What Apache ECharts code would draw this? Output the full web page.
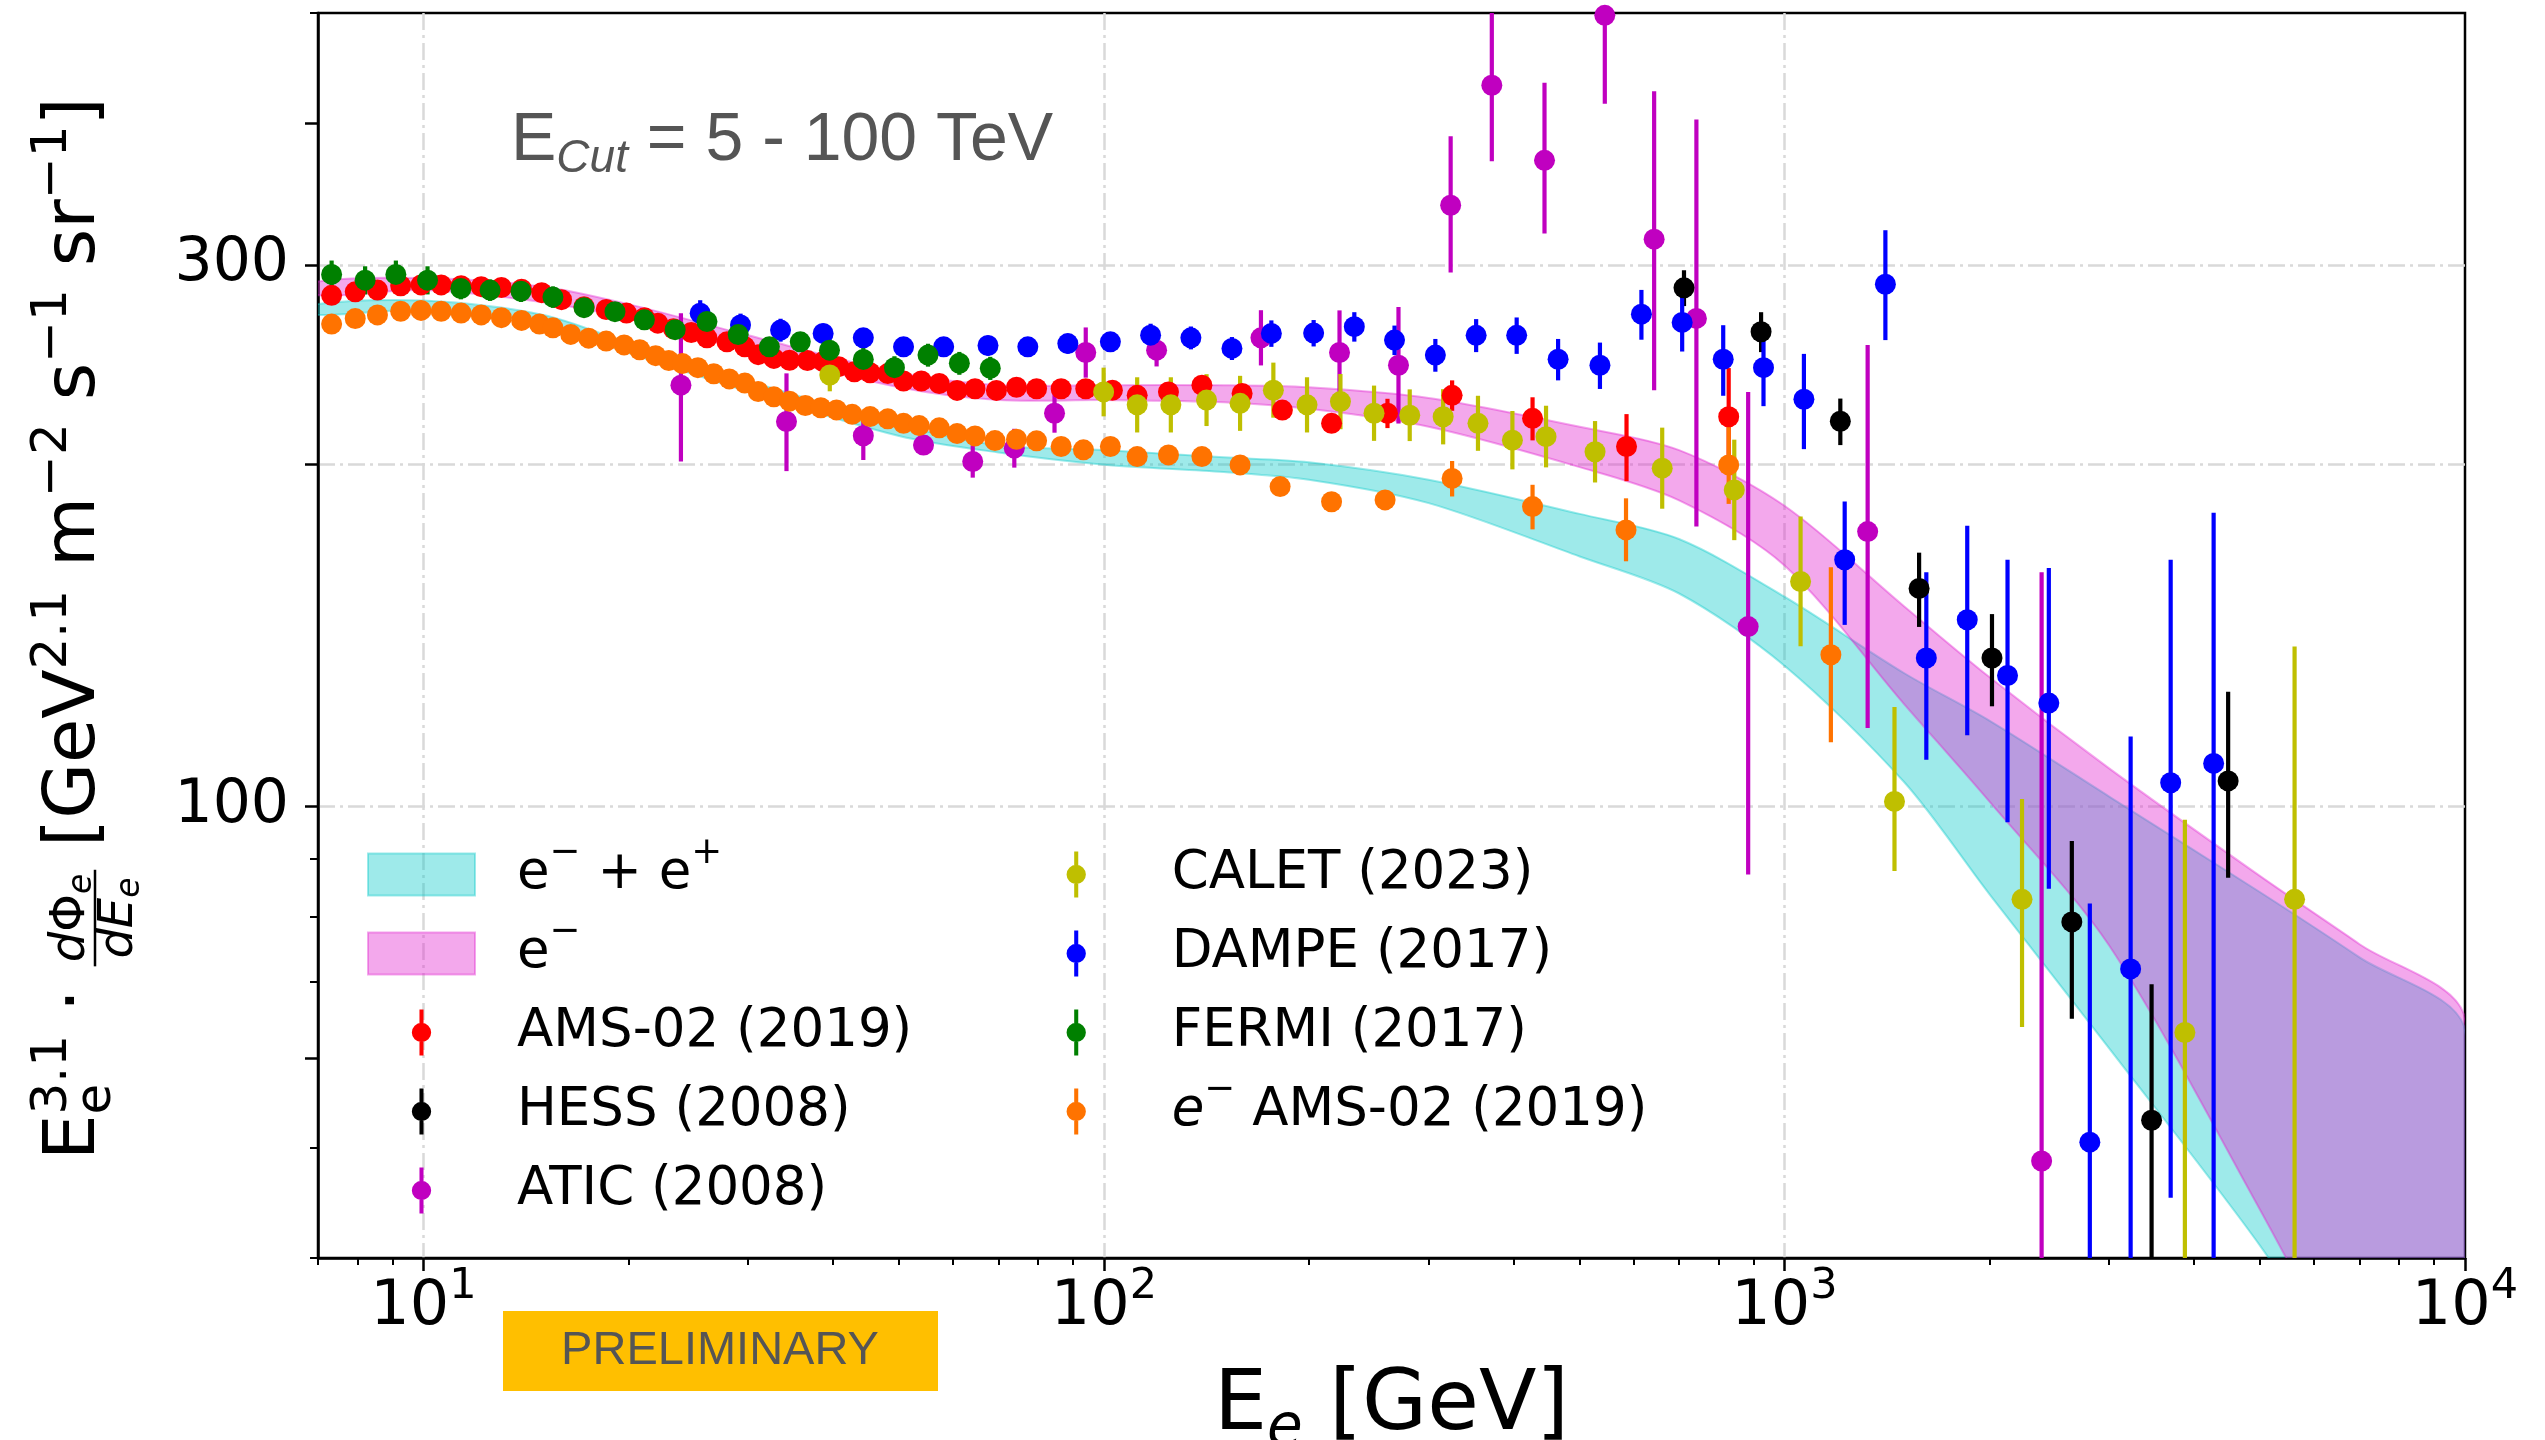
<!DOCTYPE html>
<html><head><meta charset="utf-8">
<script src="https://cdn.jsdelivr.net/npm/echarts@6/dist/echarts.min.js"></script>
<style>html,body{margin:0;padding:0;background:#fff}#c{width:2545px;height:1440px}</style>
</head><body><div id="c"></div>
<script>
// ---------------- data (E [GeV], E^3.1 dPhi/dE, err down, err up) ----------------
const bandE      = [7, 10, 15, 20, 30, 50, 70, 100, 150, 200, 300, 500, 700, 1000, 1500, 2000, 3000, 5000, 7000, 10000];
const bandAllLo  = [271, 274, 266, 251, 232, 212, 205, 200, 197, 194, 185, 166, 154, 133, 105, 83.7, 61.2, 41.0, 30.2, 22.5];
const bandAllHi  = [277, 279, 271, 256, 237, 217, 208, 206, 203, 201, 194, 181, 172, 153, 131, 119, 102, 84.0, 73.6, 63.5];
const bandEleLo  = [282, 285, 278, 269, 252, 234, 228, 228, 227, 224, 216, 199, 186, 163, 123, 101, 75.4, 44.1, 30.2, 20.4];
const bandEleHi  = [290, 292, 287, 277, 260, 241, 235, 235, 235, 234, 229, 216, 206, 184, 150, 130, 108, 86.8, 75.6, 65.0];

const AMS = [[7.33,282,1.6,1.6],[7.94,284,1.6,1.6],[8.56,285,1.6,1.6],[9.26,287.5,1.6,1.6],[9.92,288,1.6,1.6],[10.62,288,1.6,1.6],[11.36,287.5,1.6,1.6],[12.16,287,1.6,1.6],[13.02,286.5,1.6,1.6],[13.94,285.5,1.6,1.6],[14.92,283.5,1.6,1.6],[15.96,279.5,1.6,1.6],[17.22,275.5,1.6,1.6],[18.56,274,1.6,1.6],[19.88,272,1.6,1.6],[21.12,269.5,1.6,1.6],[22.10,266.5,1.6,1.6],[23.30,263.5,1.6,1.6],[24.75,261.5,1.6,1.6],[26.10,258.7,1.6,1.6],[27.93,256.6,1.6,1.6],[29.67,254,1.6,1.6],[31.04,250,1.6,1.6],[32.73,248.1,1.6,1.6],[34.51,247.2,1.6,1.6],[36.67,247,1.6,1.6],[38.67,246.5,1.6,1.6],[40.76,244,1.6,1.6],[42.98,241.5,1.6,1.6],[45.33,241,1.6,1.6],[48.12,240.6,1.6,1.6],[50.76,237,1.6,1.6],[53.91,237,1.6,1.6],[57.28,235.8,1.6,1.6],[60.84,232.5,1.6,1.6],[64.65,233.3,1.6,1.6],[69.50,232.5,1.6,1.6],[74.39,234,1.6,1.6],[79.62,233.3,1.6,1.6],[86.52,233.3,1.8,1.8],[94.03,233.3,1.8,1.8],[102.9,232.6,2,2],[111.9,230.2,2,2],[124.4,231.8,2,2],[139.3,235,2.2,2.2],[159.6,231.1,2.5,2.5],[182.9,223.4,3,3],[216.0,217.5,3.6,3.6],[261.0,222.0,6.6,6.6],[324.8,230.2,7.1,7.1],[426.4,219.7,9.6,9.6],[586.0,207.5,14.1,14.1],[828.0,220.4,22.9,22.9]];
const HESS = [[711.8,286.3,10.4,10.4],[923.9,261.9,10.6,10.6],[1208,218.4,10.3,10.3],[1577,155.6,11.7,11.7],[2018,135.1,12.6,12.6],[2644,79.1,14.1,14.1],[3463,52.9,22.9,16.8],[4487,105.3,18.8,20.9]];
const ATIC = [[23.90,235.0,33.7,36.9],[34.16,218.3,20.9,22.4],[44.30,212.1,10.2,10.7],[54.31,208.1,4.1,4.1],[64.15,201.3,6.5,6.7],[73.84,206.8,8.0,8.3],[84.60,222.0,8.6,8.9],[94.03,251.1,12.5,13.1],[119.5,252.3,8.2,8.4],[170.1,258.7,14.1,14.9],[221.9,251.1,20.6,22.4],[270.9,244.7,27.3,30.7],[323.2,338.5,43.2,50.8],[371.5,431.8,61.7,68.2],[444.0,370.8,51.1,63.3],[544.5,497.6,81.6,102.4],[643.4,316.0,83.4,110.6],[742.3,269.1,92.7,133.8],[884.4,144.0,56.9,87.8],[1325,174.6,57.4,80.4],[2387,48.7,18.7,112.1]];
const CALET = [[39.55,239.9,7.8,8.0],[99.9,231.8,11.2,11.7],[111.9,225.8,12.3,13.0],[125.4,225.8,12.3,13.0],[141.5,228.0,11.7,12.3],[158.5,226.5,12.3,13.0],[177.4,232.6,12.6,13.4],[198.8,225.8,12.3,13.0],[222.6,227.3,12.4,13.1],[249.4,222.0,12.1,12.8],[281.4,221.1,11.3,11.9],[315.1,220.4,12.0,12.7],[354.5,217.5,11.8,12.5],[398.3,210.2,12.1,12.8],[446.3,211.7,12.8,13.7],[526.8,205.3,12.4,13.2],[661.2,198.6,15.7,17.0],[843.8,190.0,18.4,20.4],[1056,157.8,19.4,22.2],[1451,101.0,13.3,21.3],[2234,82.8,18.9,18.7],[3876,63.2,33.2,34.1],[5618,82.8,62.8,55.5]];
const DAMPE = [[25.51,271.9,7.3,7.3],[29.24,265.5,6.2,6.2],[33.48,262.8,6.1,6.1],[38.67,261.0,5.2,5.2],[44.30,258.7,5.1,5.1],[50.76,254.0,5.1,5.1],[58.14,254.0,5.1,5.1],[67.55,254.7,5.1,5.1],[77.29,254.0,5.1,5.1],[88.50,255.7,5.1,5.1],[102.2,256.6,5.1,5.1],[117.1,260.1,6.1,6.1],[134.2,258.7,6.0,6.0],[154.2,253.2,5.9,5.9],[176.2,261.0,7.0,7.0],[203.3,261.2,7.0,7.0],[233.3,264.6,7.9,7.9],[267.3,257.5,7.7,7.7],[306.9,249.8,8.3,8.3],[352.3,260.0,8.7,8.7],[404.1,260.0,9.6,9.6],[464.9,247.7,10.4,10.4],[535.6,244.7,11.5,11.5],[616.3,271.4,13.7,13.7],[707.4,266.9,15.3,15.3],[812.8,247.7,17.7,17.7],[931.5,243.5,18.3,18.3],[1068,228.4,22.0,22.0],[1226,164.9,20.4,20.7],[1407,288.4,30.9,33.4],[1616,135.1,25.2,25.7],[1856,146.0,30.5,30.7],[2127,130.4,33.6,34.5],[2446,123.3,38.7,38.9],[2810,50.6,20.6,31.5],[3226,71.9,41.9,43.3],[3694,104.9,59.7,60.0],[4272,109.1,79.1,72.3]];
const FERMI = [[7.33,294.2,8.4,8.4],[8.21,290.8,8.3,8.3],[9.11,294.2,8.4,8.4],[10.14,290.8,8.3,8.3],[11.35,285.9,6.2,6.2],[12.53,285.0,6.2,6.2],[13.91,284.3,6.1,6.1],[15.50,281.0,6.1,6.1],[17.22,275.0,4.6,4.6],[19.12,272.8,4.5,4.5],[21.12,268.3,4.5,4.5],[23.44,263.0,4.4,4.4],[26.10,267.4,4.4,4.4],[29.01,260.4,4.3,4.3],[32.24,254.0,4.2,4.2],[35.79,256.6,4.3,4.3],[39.51,252.3,5.9,5.9],[44.30,247.6,5.8,5.8],[49.22,243.5,5.7,5.7],[55.14,249.8,5.8,5.8],[61.31,245.7,5.7,5.7],[68.07,243.2,5.7,5.7]];
const EAMS = [[7.33,266,1.6,1.6],[7.94,269,1.6,1.6],[8.56,271,1.6,1.6],[9.26,273,1.6,1.6],[9.92,273.5,1.6,1.6],[10.62,273,1.6,1.6],[11.36,272,1.6,1.6],[12.16,271,1.6,1.6],[13.02,269.5,1.6,1.6],[13.94,268,1.6,1.6],[14.81,266,1.6,1.6],[15.50,264,1.6,1.6],[16.46,260.5,1.6,1.6],[17.49,258.5,1.6,1.6],[18.56,257,1.6,1.6],[19.72,255,1.6,1.6],[20.79,252.5,1.6,1.6],[21.94,249.5,1.6,1.6],[22.94,247,1.6,1.6],[24.02,245.5,1.6,1.6],[25.31,243.5,1.6,1.6],[26.71,240.5,1.6,1.6],[28.15,238,1.6,1.6],[29.67,236,1.6,1.6],[31.04,232,1.6,1.6],[32.73,229.5,1.6,1.6],[34.51,227.5,1.6,1.6],[36.41,225.5,1.6,1.6],[38.37,224.5,1.6,1.6],[40.46,223.5,1.6,1.6],[42.66,221.5,1.6,1.6],[45.33,220.5,1.6,1.6],[48.12,219.5,1.6,1.6],[50.76,217.5,1.6,1.6],[53.51,216.5,1.6,1.6],[57.28,215.5,1.6,1.6],[60.84,213,1.6,1.6],[64.65,212,1.6,1.6],[69.16,210,1.6,1.6],[74.39,210.6,1.6,1.6],[79.62,209.9,1.6,1.6],[86.52,207.5,1.6,1.6],[93.3,206.1,1.6,1.6],[102.2,207.5,1.6,1.6],[111.9,203.3,1.6,1.6],[124.4,204.0,1.6,1.6],[139.3,203.3,1.6,1.6],[158.5,199.9,1.6,1.6],[181.5,191.3,2,2],[216.0,185.5,2.5,2.5],[258.9,186.2,3,3],[324.8,194.5,7.0,7.0],[426.4,183.7,8.3,8.3],[585,175.2,10.8,11.6],[828,199.9,15.2,16.4],[1170,136.0,22.1,26.4]];

const xMajorTicks = [10, 100, 1000, 10000];
const xMinorTicks = [7, 8, 9, 20, 30, 40, 50, 60, 70, 80, 90, 200, 300, 400, 500, 600, 700, 800, 900, 2000, 3000, 4000, 5000, 6000, 7000, 8000, 9000];
const yMajorTicks = [60, 100, 200, 300, 400];
const yMinorTicks = [40, 50, 70, 80, 90, 500];
const yTickLabels = [100, 300];

// ---------------- styling ----------------
const FF = 'DejaVu Sans', FL = 'Liberation Sans';
const GL = 318, GT = 13, GR = 2465, GB = 1258;
const LOG = Math.log10;
const gridLine = {color: '#d9d9d9', width: 2.5, type: [17, 5, 3, 5]};

function bandSeries(name, lo, hi, color) {
  return {
    type: 'custom', name, xAxisIndex: 0, yAxisIndex: 0, clip: true, silent: true,
    itemStyle: {color: color, borderColor: color, borderWidth: 2},
    data: bandE.map((e, i) => [e, lo[i], hi[i]]),
    encode: {x: 0, y: [1, 2]},
    renderItem(params, api) {
      if (params.dataIndex !== 0) return null;
      const up = bandE.map((e, i) => api.coord([e, hi[i]]));
      const dn = bandE.map((e, i) => api.coord([e, lo[i]])).reverse();
      return {type: 'polygon', shape: {points: up.concat(dn), smooth: 0.3}, style: {fill: color, stroke: color, lineWidth: 2}};
    }
  };
}
function errSeries(name, rows, color) {
  return {
    type: 'custom', name, xAxisIndex: 0, yAxisIndex: 0, clip: true, silent: true,
    itemStyle: {color: color},
    data: rows.map(r => [r[0], r[1], r[1] - r[2], r[1] + r[3]]),
    encode: {x: 0, y: [2, 3]},
    renderItem(params, api) {
      const e = api.value(0);
      const a = api.coord([e, api.value(2)]);
      const b = api.coord([e, api.value(3)]);
      return {type: 'line', shape: {x1: a[0], y1: a[1], x2: b[0], y2: b[1]}, style: {stroke: color, lineWidth: 4.2}};
    }
  };
}
function dotSeries(name, rows, color) {
  return {
    type: 'scatter', name, xAxisIndex: 0, yAxisIndex: 0, clip: true, silent: true,
    data: rows.map(r => [r[0], r[1]]), symbol: 'circle', symbolSize: 21,
    itemStyle: {color: color, opacity: 1}, emphasis: {disabled: true}
  };
}

const N_ALL = 'e⁻ + e⁺', N_ELE = 'e⁻', N_AMS = 'AMS-02 (2019)', N_HESS = 'HESS (2008)', N_ATIC = 'ATIC (2008)',
      N_CALET = 'CALET (2023)', N_DAMPE = 'DAMPE (2017)', N_FERMI = 'FERMI (2017)', N_EAMS = 'e⁻ AMS-02 (2019)';
const C = {all: 'rgba(13,203,203,0.4)', ele: 'rgba(225,38,207,0.4)', ams: '#ff0000', hess: '#000000', atic: '#c000c0',
           calet: '#bfbf00', dampe: '#0000ff', fermi: '#008000', eams: '#ff7300'};

const series = [
  bandSeries(N_ALL, bandAllLo, bandAllHi, C.all),
  bandSeries(N_ELE, bandEleLo, bandEleHi, C.ele),
  errSeries(N_AMS, AMS, C.ams), dotSeries(N_AMS, AMS, C.ams),
  errSeries(N_HESS, HESS, C.hess), dotSeries(N_HESS, HESS, C.hess),
  errSeries(N_ATIC, ATIC, C.atic), dotSeries(N_ATIC, ATIC, C.atic),
  errSeries(N_CALET, CALET, C.calet), dotSeries(N_CALET, CALET, C.calet),
  errSeries(N_DAMPE, DAMPE, C.dampe), dotSeries(N_DAMPE, DAMPE, C.dampe),
  errSeries(N_FERMI, FERMI, C.fermi), dotSeries(N_FERMI, FERMI, C.fermi),
  errSeries(N_EAMS, EAMS, C.eams), dotSeries(N_EAMS, EAMS, C.eams)
];

// legend
const rectIcon = 'path://M0,0H107V42H0Z';
const ebIcon = 'path://M0,24.99h0.02v0.02h-0.02Z M106.98,24.99h0.02v0.02h-0.02Z M51.3,0H55.7V14.6H51.3Z M51.3,35.4H55.7V50H51.3Z M43,25A10.5,10.5 0 1,1 64,25A10.5,10.5 0 1,1 43,25Z';
const legendFmt = {};
legendFmt[N_ALL] = '{g| }{t|e}{p|−}{t| + e}{p|+}';
legendFmt[N_ELE] = '{g| }{t|e}{p|−}';
legendFmt[N_EAMS] = '{g| }{i|e}{p|−}{t| AMS-02 (2019)}';
const legendText = {
  fontSize: 53, fontFamily: FF, color: '#000',
  rich: {
    g: {width: 37, lineHeight: 64, fontSize: 37, fontFamily: FF, padding: [0, 0, 42, 0]},
    t: {fontSize: 53, fontFamily: FF, color: '#000', lineHeight: 64},
    i: {fontSize: 53, fontFamily: FF, fontStyle: 'italic', color: '#000', lineHeight: 64},
    p: {fontSize: 37, fontFamily: FF, color: '#000', lineHeight: 64, padding: [0, 0, 42, 0]}
  }
};
function legendBox(left, items) {
  return {
    show: true, orient: 'vertical', left: left, top: 835, itemWidth: 107, itemHeight: 46, itemGap: 0,
    padding: 0, selectedMode: false, backgroundColor: 'transparent',
    data: items, textStyle: legendText,
    formatter: n => legendFmt[n] || ('{g| }{t|' + n + '}')
  };
}

// text helpers for mathtext-like labels
const mc = document.createElement('canvas').getContext('2d');
function textW(t, s, fam, it) { mc.font = (it ? 'italic ' : '') + s + 'px "' + fam + '"'; return mc.measureText(t).width; }
function runEls(pieces, fam, color) {
  let x = 0; const els = [];
  const put = (p, x0) => {
    els.push({type: 'text', z: 5, x: x0, y: (p.dy || 0) - 0.346 * p.s, silent: true,
      style: {text: p.t, fontSize: p.s, fontFamily: fam, fontStyle: p.it ? 'italic' : 'normal', fill: color, align: 'left', verticalAlign: 'middle'}});
    return textW(p.t, p.s, fam, p.it);
  };
  for (const p of pieces) {
    if (p.stack) { let w = 0; p.stack.forEach(q => { w = Math.max(w, put(q, x)); }); x += w; }
    else if (p.frac) {
      const f = p.frac;
      const wn = f.num.reduce((a, q) => a + textW(q.t, q.s, fam, q.it), 0);
      const wd = f.den.reduce((a, q) => a + textW(q.t, q.s, fam, q.it), 0);
      const W = Math.max(wn, wd) + 2 * f.pad;
      let xn = x + (W - wn) / 2; f.num.forEach(q => { xn += put(Object.assign({}, q, {dy: f.bar - f.gapN + (q.dy || 0)}), xn); });
      let xd = x + (W - wd) / 2; f.den.forEach(q => { xd += put(Object.assign({}, q, {dy: f.bar + f.gapD + (q.dy || 0)}), xd); });
      els.push({type: 'rect', z: 5, silent: true, shape: {x: x, y: f.bar - f.lw / 2, width: W, height: f.lw}, style: {fill: color}});
      x += W;
    } else x += put(p, x);
  }
  return els;
}

const yLabelEls = runEls([
  {t: 'E', s: 72},
  {stack: [{t: 'e', s: 50, dy: 14}, {t: '3.1', s: 50, dy: -30}]},
  {t: ' · ', s: 72},
  {frac: {num: [{t: 'd', s: 48, it: true}, {t: 'Φ', s: 48}, {t: 'e', s: 33, it: true, dy: 6}],
          den: [{t: 'd', s: 48, it: true}, {t: 'E', s: 48, it: true}, {t: 'e', s: 33, it: true, dy: 6}],
          bar: -5, gapN: 7, gapD: 41, pad: 4, lw: 2.5}},
  {t: ' [GeV', s: 72}, {t: '2.1', s: 50, dy: -30},
  {t: ' m', s: 72}, {t: '−2', s: 50, dy: -30},
  {t: ' s', s: 72}, {t: '−1', s: 50, dy: -30},
  {t: ' sr', s: 72}, {t: '−1', s: 50, dy: -30},
  {t: ']', s: 72}
], FF, '#000');

const ecutEls = runEls([
  {t: 'E', s: 68}, {t: 'Cut', s: 46, it: true, dy: 10}, {t: ' = 5 - 100 TeV', s: 68}
], FL, '#555555');

const option = {
  animation: false,
  backgroundColor: '#ffffff',
  textStyle: {fontFamily: FF},
  grid: {left: GL, top: GT, width: GR - GL, height: GB - GT, show: true, borderColor: '#000', borderWidth: 2.5,
         backgroundColor: 'transparent', containLabel: false, outerBoundsMode: 'none'},
  legend: [
    legendBox(367, [{name: N_ALL, icon: rectIcon}, {name: N_ELE, icon: rectIcon}, {name: N_AMS, icon: ebIcon}, {name: N_HESS, icon: ebIcon}, {name: N_ATIC, icon: ebIcon}]),
    legendBox(1027, [{name: N_CALET, icon: ebIcon}, {name: N_DAMPE, icon: ebIcon}, {name: N_FERMI, icon: ebIcon}, {name: N_EAMS, icon: ebIcon}])
  ],
  xAxis: [
    {type: 'log', logBase: 10, min: 7, max: 10000, position: 'bottom',
     axisLine: {show: true, onZero: false, lineStyle: {color: '#000', width: 2.5}},
     axisTick: {show: false},
     axisLabel: {show: true, margin: 14,
       formatter: v => { const l = Math.log10(v), k = Math.round(l); if (Math.abs(l - k) > 1e-6 || k < 1) return ''; return '{b|10}{s|' + k + '}'; },
       rich: {b: {fontSize: 62, fontFamily: FF, color: '#000', lineHeight: 72},
              s: {fontSize: 43, fontFamily: FF, color: '#000', lineHeight: 72, padding: [0, 0, 42, 0]}}},
     splitLine: {show: true, showMinLine: false, showMaxLine: false, lineStyle: gridLine},
     name: '{m|E}{s|e}{m| [GeV]}', nameLocation: 'middle', nameGap: 88,
     nameTextStyle: {rich: {m: {fontSize: 84, fontFamily: FF, color: '#000', lineHeight: 96},
                            s: {fontSize: 58, fontFamily: FF, fontStyle: 'italic', color: '#000', lineHeight: 96, padding: [46, 0, 0, 0]}}}},
    {type: 'value', min: LOG(7), max: 4, position: 'bottom', axisLine: {show: false}, axisLabel: {show: false}, splitLine: {show: false},
     axisTick: {show: true, length: 13, lineStyle: {color: '#000', width: 2.5}, customValues: xMajorTicks.map(LOG)}},
    {type: 'value', min: LOG(7), max: 4, position: 'bottom', axisLine: {show: false}, axisLabel: {show: false}, splitLine: {show: false},
     axisTick: {show: true, length: 7, lineStyle: {color: '#000', width: 2}, customValues: xMinorTicks.map(LOG)}}
  ],
  yAxis: [
    {type: 'log', logBase: 10, min: 40, max: 500, position: 'left',
     axisLine: {show: true, onZero: false, lineStyle: {color: '#000', width: 2.5}},
     axisTick: {show: false}, axisLabel: {show: false}, splitLine: {show: false}},
    {type: 'value', min: LOG(40), max: LOG(500), position: 'left', axisLine: {show: false},
     axisTick: {show: true, length: 13, lineStyle: {color: '#000', width: 2.5}, customValues: yMajorTicks.map(LOG)},
     axisLabel: {show: true, margin: 29, customValues: yTickLabels.map(LOG), formatter: v => String(Math.round(Math.pow(10, v))),
                 fontSize: 60, fontFamily: FF, color: '#000'},
     splitLine: {show: true, showMinLine: false, showMaxLine: false, lineStyle: gridLine}},
    {type: 'value', min: LOG(40), max: LOG(500), position: 'left', axisLine: {show: false}, axisLabel: {show: false}, splitLine: {show: false},
     axisTick: {show: true, length: 8, lineStyle: {color: '#000', width: 2}, customValues: yMinorTicks.map(LOG)}}
  ],
  graphic: [
    {type: 'rect', z: 1, silent: true, shape: {x: 472, y: 95, width: 620, height: 96}, style: {fill: '#ffffff'}},
    {type: 'group', z: 5, x: 511, y: 165, silent: true, children: ecutEls},
    {type: 'group', z: 5, x: 100, y: 1160, rotation: Math.PI / 2, silent: true, children: yLabelEls},
    {type: 'rect', z: 3, silent: true, shape: {x: 503, y: 1311, width: 435, height: 80}, style: {fill: '#ffbf00'}},
    {type: 'text', z: 4, silent: true, x: 720, y: 1351, style: {text: 'PRELIMINARY', fontSize: 47, fontFamily: FL, fill: '#555555', align: 'center', verticalAlign: 'middle'}}
  ],
  series: series
};

const chart = echarts.init(document.getElementById('c'), null, {renderer: 'canvas', width: 2545, height: 1440});
chart.setOption(option);
</script></body></html>
